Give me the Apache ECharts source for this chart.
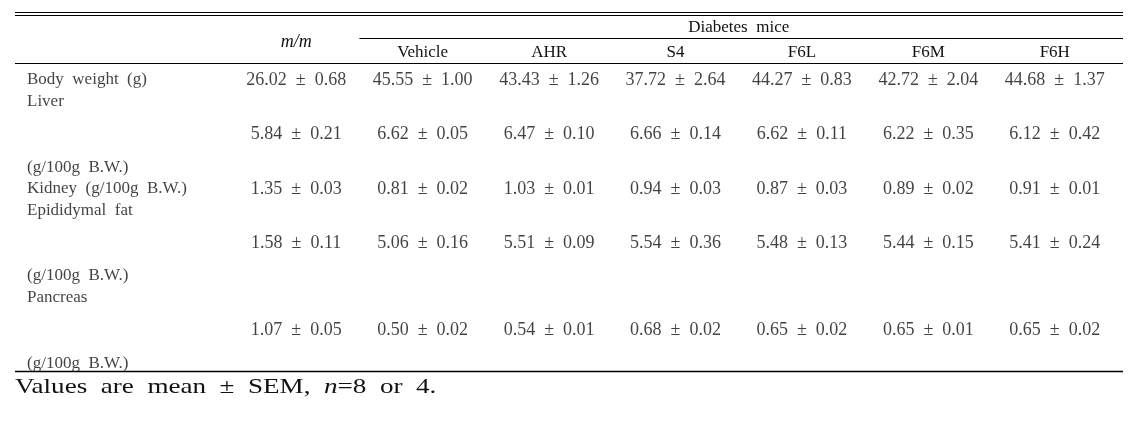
<!DOCTYPE html>
<html>
<head>
<meta charset="utf-8">
<script src="https://cdn.jsdelivr.net/npm/echarts@6/dist/echarts.min.js"></script>
<style>
  html, body { margin: 0; padding: 0; background: #fff; }
  #table { width: 1135px; height: 434px; }
</style>
</head>
<body>
<div id="table"></div>
<script>
// columns of the table
var groups = ['m/m', 'Vehicle', 'AHR', 'S4', 'F6L', 'F6M', 'F6H'];
var spanTitle = 'Diabetes mice';

// row labels, one entry per text line in the stub cell
var bodyLabel = ['Body weight (g)'];
var liverLabel = ['Liver', '', '', '(g/100g B.W.)'];
var kidneyLabel = ['Kidney (g/100g B.W.)'];
var fatLabel = ['Epididymal fat', '', '', '(g/100g B.W.)'];
var pancLabel = ['Pancreas', '', '', '(g/100g B.W.)'];

// mean and SEM per group
var bodyMean = [26.02, 45.55, 43.43, 37.72, 44.27, 42.72, 44.68];
var bodySem  = [0.68, 1.00, 1.26, 2.64, 0.83, 2.04, 1.37];
var liverMean = [5.84, 6.62, 6.47, 6.66, 6.62, 6.22, 6.12];
var liverSem  = [0.21, 0.05, 0.10, 0.14, 0.11, 0.35, 0.42];
var kidneyMean = [1.35, 0.81, 1.03, 0.94, 0.87, 0.89, 0.91];
var kidneySem  = [0.03, 0.02, 0.01, 0.03, 0.03, 0.02, 0.01];
var fatMean = [1.58, 5.06, 5.51, 5.54, 5.48, 5.44, 5.41];
var fatSem  = [0.11, 0.16, 0.09, 0.36, 0.13, 0.15, 0.24];
var pancMean = [1.07, 0.50, 0.54, 0.68, 0.65, 0.65, 0.65];
var pancSem  = [0.05, 0.02, 0.01, 0.02, 0.02, 0.01, 0.02];

var note = 'Values are mean ± SEM, n=8 or 4.';

var rows = [
  [bodyLabel, bodyMean, bodySem],
  [liverLabel, liverMean, liverSem],
  [kidneyLabel, kidneyMean, kidneySem],
  [fatLabel, fatMean, fatSem],
  [pancLabel, pancMean, pancSem]
];

var FONT = 'Liberation Serif';
var INK = '#111';

// build line data for the stub column and cell data for the values
var stubData = [], cellData = [];
var line = 0;
rows.forEach(function (r) {
  var labels = r[0];
  labels.forEach(function (t, k) {
    stubData.push({ value: [0, line + k], name: t });
  });
  var mid = line + (labels.length - 1) / 2;
  r[1].forEach(function (m, g) {
    cellData.push({ value: [groups[g], mid], name: m.toFixed(2) + '  ±  ' + r[2][g].toFixed(2) });
  });
  line += labels.length;
});
var nLines = line;

var myChart = echarts.init(document.getElementById('table'));

var yAx = function (idx) {
  return { type: 'value', gridIndex: idx, min: -0.5, max: nLines - 0.5, inverse: true, show: false };
};

var option = {
  animation: false,
  backgroundColor: '#fff',
  grid: [
    { left: 27, width: 200, top: 69, height: 305 },
    { left: 233, right: 17, top: 69, height: 305 }
  ],
  xAxis: [
    { type: 'value', gridIndex: 0, min: 0, max: 1, show: false },
    {
      type: 'category', gridIndex: 1, data: groups, position: 'top',
      axisLine: { show: false }, axisTick: { show: false }, splitLine: { show: false },
      axisLabel: {
        interval: 0, margin: 8, color: INK, fontFamily: FONT, fontSize: 17, fontWeight: 400,
        textBorderWidth: 0, textShadowBlur: 0,
        formatter: function (v) { return v === 'm/m' ? '{it|' + v + '}' : v; },
        rich: { it: { fontStyle: 'italic', fontWeight: 400, fontFamily: FONT, fontSize: 18, color: INK, padding: [0, 0, 10, 0] } }
      }
    }
  ],
  yAxis: [yAx(0), yAx(1)],
  series: [
    {
      type: 'scatter', xAxisIndex: 0, yAxisIndex: 0, data: stubData,
      symbolSize: 1, itemStyle: { color: 'rgba(0,0,0,0)' },
      label: {
        show: true, position: 'inside', align: 'left', verticalAlign: 'middle',
        formatter: function (p) { return p.name.replace(/ /g, '  '); },
        color: INK, fontFamily: FONT, fontSize: 17
      }
    },
    {
      type: 'scatter', xAxisIndex: 1, yAxisIndex: 1, data: cellData,
      symbolSize: 1, itemStyle: { color: 'rgba(0,0,0,0)' },
      label: {
        show: true, position: 'inside', align: 'center', verticalAlign: 'middle',
        formatter: function (p) { return p.name; },
        color: INK, fontFamily: FONT, fontSize: 18
      }
    }
  ]
};
myChart.setOption(option);

// spanning header and rules
var xFirst = myChart.convertToPixel({ xAxisIndex: 1 }, groups[1]);
var xLast = myChart.convertToPixel({ xAxisIndex: 1 }, groups[groups.length - 1]);
var band = myChart.convertToPixel({ xAxisIndex: 1 }, groups[2]) - xFirst;
var L = 15, R = 1123;
function rule(x1, y, x2, w) {
  return { type: 'line', shape: { x1: x1, y1: y, x2: x2, y2: y }, style: { stroke: '#000', lineWidth: w } };
}
var noteParts = note.split('n=');
myChart.setOption({
  graphic: [
    rule(L, 12.5, R, 1.2),
    rule(L, 15.5, R, 1.2),
    rule(xFirst - band / 2, 38.5, R, 1.2),
    rule(L, 63.5, R, 1.2),
    rule(L, 371.5, R, 1.5),
    {
      type: 'text', x: (xFirst + xLast) / 2, y: 28,
      style: { text: spanTitle.replace(/ /g, '  '), fill: INK, font: '17px "' + FONT + '"', align: 'center', verticalAlign: 'middle' }
    },
    {
      type: 'text', x: 15, y: 387, scaleX: 1.29,
      style: {
        text: '{a|' + noteParts[0].replace(/ /g, '  ') + '}{i|n}{a|=' + noteParts[1].replace(/ /g, '  ') + '}',
        verticalAlign: 'middle', align: 'left',
        rich: {
          a: { fontFamily: FONT, fontSize: 21, fill: INK },
          i: { fontFamily: FONT, fontSize: 21, fill: INK, fontStyle: 'italic' }
        }
      }
    }
  ]
});
</script>
</body>
</html>
